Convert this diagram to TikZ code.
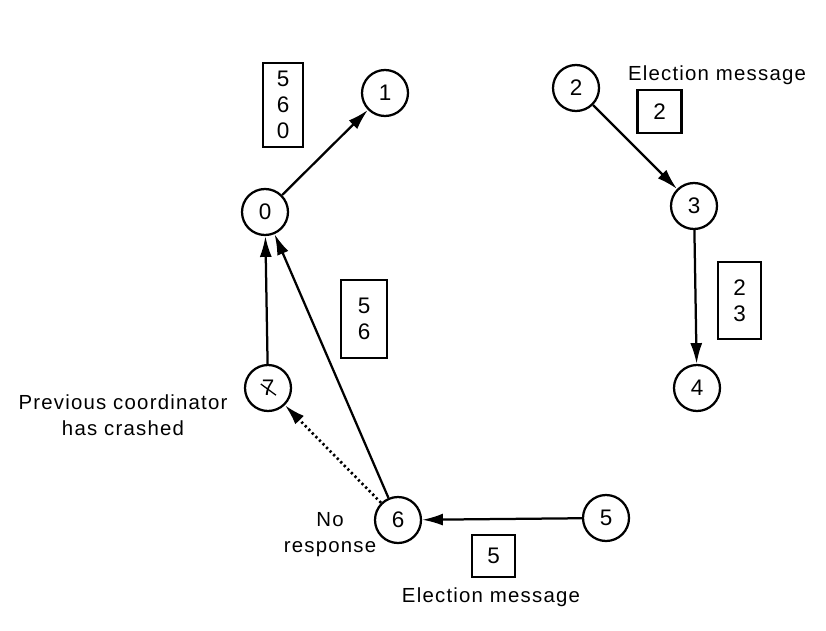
\documentclass[tikz,border=0pt]{standalone}
\usepackage{fontspec}
\setmainfont{Liberation Sans}
\newfontfamily\notefont[LetterSpace=6]{Liberation Sans}
\usetikzlibrary{arrows.meta}
\tikzset{
  proc/.style={draw, circle, line width=1.6pt, minimum size=1.15cm, inner sep=0pt, font=\fontsize{16}{18}\selectfont},
  msgbox/.style={draw, rectangle, line width=1.6pt, inner sep=0pt, align=center, font=\fontsize{16}{18.5}\selectfont},
  note/.style={align=center, font=\notefont\fontsize{14.5}{18.5}\selectfont},
  arr/.style={line width=1.6pt, -{Latex[length=5.2mm,width=3mm]}}
}
\begin{document}
\begin{tikzpicture}
        \useasboundingbox (0,0) rectangle (20.65,15.75);
        % processes
        \node[proc] (n0) at (6.625,10.45) {0};
        \node[proc] (n1) at (9.625,13.425) {1};
        \node[proc] (n2) at (14.4,13.55) {2};
        \node[proc] (n3) at (17.35,10.6) {3};
        \node[proc] (n4) at (17.425,6.05) {4};
        \node[proc] (n5) at (15.15,2.8) {5};
        \node[proc] (n6) at (9.95,2.75) {6};
        \node[proc] (n7) at (6.7,6.05) {7};
        \draw[line width=0.9pt] ([shift={(-0.18,0.1)}]n7.center) -- ([shift={(0.2,-0.18)}]n7.center);
        % election messages
        \node[msgbox, minimum width=1cm, minimum height=2.1cm] (b560) at (7.075,13.125) {5\\6\\0};
        \node[msgbox, minimum width=1.15cm, minimum height=1.95cm] (b56) at (9.1,7.775) {5\\6};
        \node[msgbox, minimum width=1.1cm, minimum height=1.075cm] (b2) at (16.49,12.96) {2};
        \node[msgbox, minimum width=1.075cm, minimum height=1.925cm] (b23) at (18.49,8.24) {2\\3};
        \node[msgbox, minimum width=1.075cm, minimum height=1.05cm] (b5) at (12.34,1.85) {5};
        % labels
        \node[note] (ltop) at (17.925,13.875) {Election message};
        \node[note] (lbot) at (12.275,0.825) {Election message};
        \node[note] (lcrash) at (3.075,5.375) {Previous coordinator\\has crashed};
        \node[note] (lnoresp) at (8.25,2.375) {No\\response};
        % ring
        \draw[arr] (n0) -- (n1);
        \draw[arr] (n2) -- (n3);
        \draw[arr] (n3) -- (n4);
        \draw[arr] (n5) -- (n6);
        \draw[arr] (n6) -- (n0);
        \draw[arr] (n7) -- (n0);
        \draw[arr, dotted, line width=1.9pt] (n6) -- (n7);
    \end{tikzpicture}
\end{document}
